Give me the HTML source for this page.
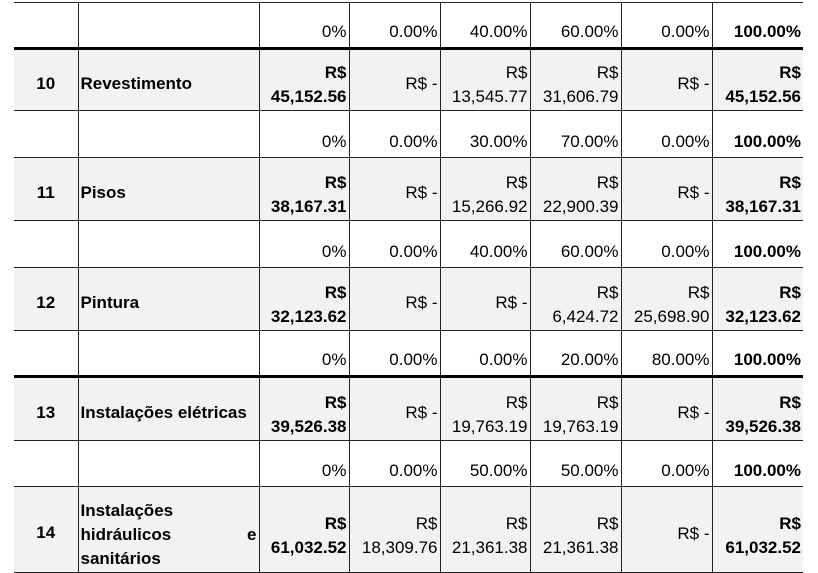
<!DOCTYPE html>
<html><head><meta charset="utf-8"><style>
html,body{margin:0;padding:0;background:#fff;width:818px;height:571px;overflow:hidden}
table{position:absolute;left:14px;top:2px;border-collapse:collapse;table-layout:fixed;font-family:"Liberation Sans",sans-serif;font-size:17px;color:#000}
td{border:1px solid #222;padding:0 2px 3px 2px;text-align:right;vertical-align:bottom;line-height:24px;white-space:nowrap;overflow:hidden}
tr.g td{background:#f2f2f2;padding-bottom:1px}
tr.g td.m{vertical-align:middle;padding-bottom:0;padding-top:8px}
td.n{text-align:center;font-weight:bold;vertical-align:middle;padding:8px 0 0 0}
td.t{text-align:left;font-weight:bold;vertical-align:middle;padding:8px 2px 0 2px}
.b{font-weight:bold}
tr.tk td{border-top:3px solid #000}
td:first-child{border-left:none}
td:last-child{border-right:none}
</style></head><body>
<table>
<colgroup><col style="width:64px"><col style="width:181px"><col style="width:90px"><col style="width:91px"><col style="width:90px"><col style="width:91px"><col style="width:91px"><col style="width:91px"></colgroup>
<tr style="height:46px"><td></td><td></td><td>0%</td><td>0.00%</td><td>40.00%</td><td>60.00%</td><td>0.00%</td><td class="b">100.00%</td></tr>
<tr class="g tk" style="height:62px"><td class="n">10</td><td class="t">Revestimento</td><td class="b">R$<br>45,152.56</td><td class="m">R$ -</td><td>R$<br>13,545.77</td><td>R$<br>31,606.79</td><td class="m">R$ -</td><td class="b">R$<br>45,152.56</td></tr>
<tr style="height:47px"><td></td><td></td><td>0%</td><td>0.00%</td><td>30.00%</td><td>70.00%</td><td>0.00%</td><td class="b">100.00%</td></tr>
<tr class="g" style="height:63px"><td class="n">11</td><td class="t">Pisos</td><td class="b">R$<br>38,167.31</td><td class="m">R$ -</td><td>R$<br>15,266.92</td><td>R$<br>22,900.39</td><td class="m">R$ -</td><td class="b">R$<br>38,167.31</td></tr>
<tr style="height:47px"><td></td><td></td><td>0%</td><td>0.00%</td><td>40.00%</td><td>60.00%</td><td>0.00%</td><td class="b">100.00%</td></tr>
<tr class="g" style="height:63px"><td class="n">12</td><td class="t">Pintura</td><td class="b">R$<br>32,123.62</td><td class="m">R$ -</td><td class="m">R$ -</td><td>R$<br>6,424.72</td><td>R$<br>25,698.90</td><td class="b">R$<br>32,123.62</td></tr>
<tr style="height:46px"><td></td><td></td><td>0%</td><td>0.00%</td><td>0.00%</td><td>20.00%</td><td>80.00%</td><td class="b">100.00%</td></tr>
<tr class="g tk" style="height:64px"><td class="n">13</td><td class="t">Instalações elétricas</td><td class="b">R$<br>39,526.38</td><td class="m">R$ -</td><td>R$<br>19,763.19</td><td>R$<br>19,763.19</td><td class="m">R$ -</td><td class="b">R$<br>39,526.38</td></tr>
<tr style="height:46px"><td></td><td></td><td>0%</td><td>0.00%</td><td>50.00%</td><td>50.00%</td><td>0.00%</td><td class="b">100.00%</td></tr>
<tr class="g" style="height:86px"><td class="n">14</td><td class="t" style="padding-top:12px">Instalações<br><span style="display:flex;justify-content:space-between"><span>hidráulicos</span><span>e</span></span>sanitários</td><td class="b" style="padding-bottom:12px">R$<br>61,032.52</td><td style="padding-bottom:12px">R$<br>18,309.76</td><td style="padding-bottom:12px">R$<br>21,361.38</td><td style="padding-bottom:12px">R$<br>21,361.38</td><td class="m">R$ -</td><td class="b" style="padding-bottom:12px">R$<br>61,032.52</td></tr>
</table>
</body></html>
